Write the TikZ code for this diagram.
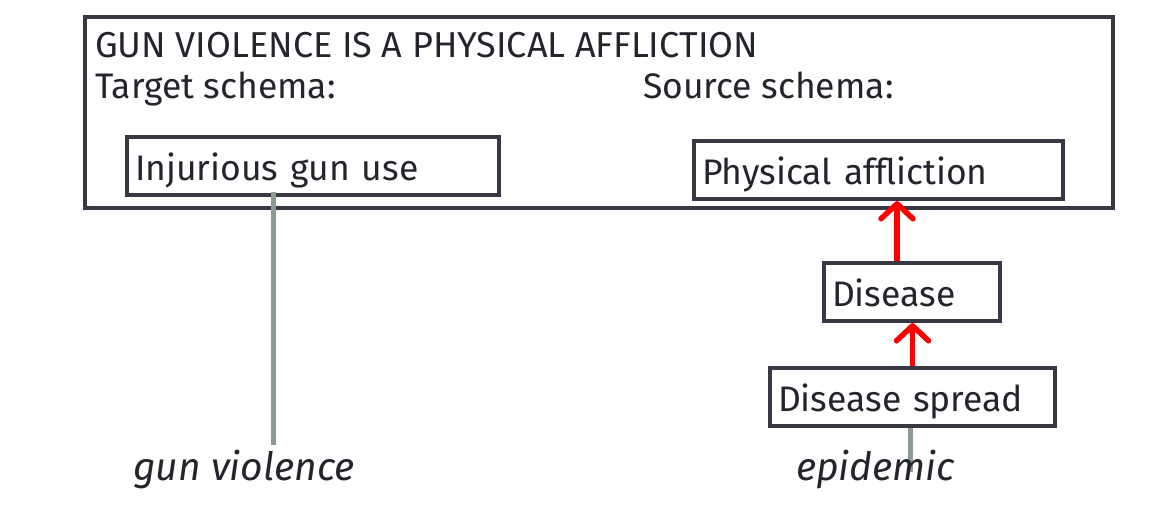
\documentclass[tikz,border=0pt]{standalone}
\usepackage{fontspec}
\setmainfont{Fira Sans}
\usetikzlibrary{arrows.meta}

\definecolor{boxc}{HTML}{383844}
\definecolor{linkc}{HTML}{8C9B93}
\definecolor{txtc}{HTML}{24242C}

\tikzset{
	schemabox/.style={draw=boxc, line width=4pt, fill=white, anchor=west, align=left,
		inner xsep=8pt, inner ysep=0pt, minimum height=58pt, text height=38pt, text depth=10pt, text=txtc},
	label/.style={anchor=base west, inner sep=0pt, text=txtc},
	word/.style={label, font=\fontsize{39}{44}\selectfont\itshape},
	link/.style={draw=linkc, line width=5pt},
	maparrow/.style={draw=red, line width=5.5pt, -{Straight Barb[round, length=15pt, width=32pt]}}
}

\begin{document}
\begin{tikzpicture}[x=1pt, y=-1pt, font=\fontsize{35.5}{40}\selectfont]
		\useasboundingbox (0,0) rectangle (1158,532);

		\draw[boxc, line width=4pt] (85,17) rectangle (1113,208);
		\node[label, font=\fontsize{36}{40}\selectfont] (title) at (95,58) {GUN VIOLENCE IS A PHYSICAL AFFLICTION};
		\node[label] (target) at (95,99) {Target schema:};
		\node[label] (source) at (643,99) {Source schema:};

		\node[schemabox, text width=356pt] (inj) at (125,166) {Injurious gun use};
		\node[schemabox, text width=353pt] (phys) at (692,170) {Physical affliction};
		\node[schemabox, text width=160pt] (disease) at (822,292) {Disease};
		\node[schemabox, text width=269pt] (spread) at (768,397) {Disease spread};

		\draw[maparrow] ([xshift=-15pt]disease.north) -- ([xshift=-15pt]disease.north |- phys.south);
		\draw[maparrow] (spread.north) -- (spread.north |- disease.south);

		\coordinate (gvtop) at (273,445);
		\coordinate (eptop) at (910,472);
		\draw[link] (gvtop) -- ([yshift=5pt]gvtop |- inj.south);
		\draw[link] (eptop) -- (eptop |- spread.south);

		\node[word] (gunv) at (133,480) {gun violence};
		\node[word] (epid) at (796,480) {epidemic};
	\end{tikzpicture}
\end{document}
